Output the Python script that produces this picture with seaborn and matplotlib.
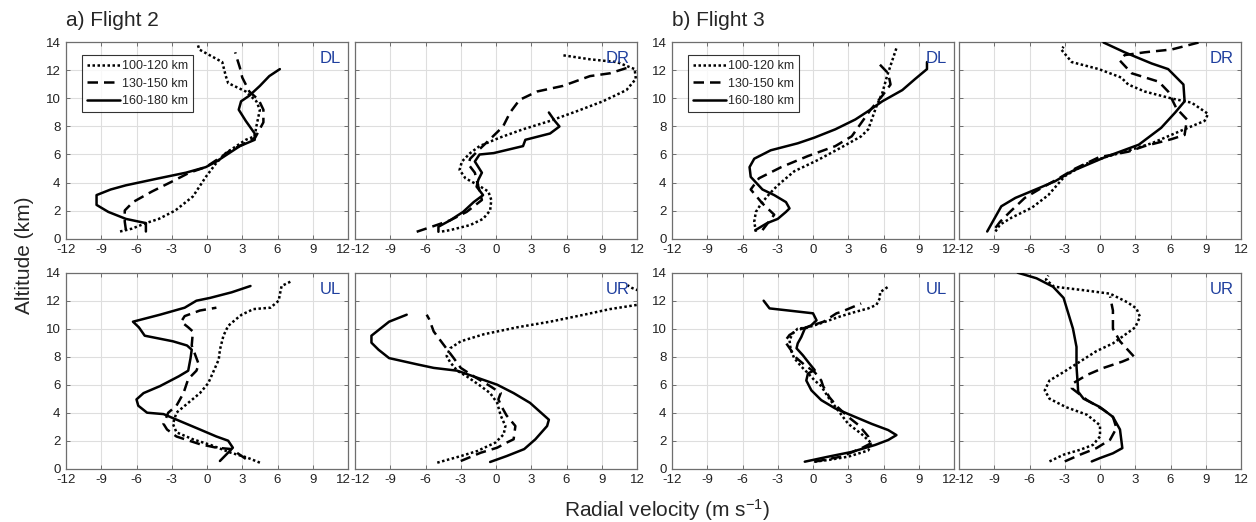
import matplotlib
matplotlib.use("Agg")
import matplotlib.pyplot as plt
import matplotlib.transforms as mtransforms
import pandas as pd
import seaborn as sns

# ---------------------------------------------------------------- data
RANGES = ["100-120 km", "130-150 km", "160-180 km"]
QUADRANTS = ["DL", "DR", "UL", "UR"]
FLIGHTS = ["a) Flight 2", "b) Flight 3"]
X_TICKS = [-12, -9, -6, -3, 0, 3, 6, 9, 12]
Y_TICKS = [0, 2, 4, 6, 8, 10, 12, 14]

# Radial-velocity profiles: (velocity m/s, altitude km), bottom to top
# Flight 2
f2_dl_100 = [(-7.4, 0.5), (-6.4, 0.7), (-5.2, 1.1), (-4.1, 1.4), (-2.7, 2.0), (-1.2, 3.0),
             (-0.1, 4.4), (0.8, 5.4), (1.6, 6.1), (3.3, 7.05), (4.06, 7.3), (4.2, 8.0),
             (4.5, 9.2), (4.2, 9.8), (3.3, 10.5), (1.8, 11.1), (1.6, 11.6), (1.3, 12.6),
             (-0.66, 13.5), (-0.8, 13.9)]
f2_dl_130 = [(-6.9, 0.6), (-7.0, 1.2), (-7.0, 2.0), (-6.3, 2.6), (-4.7, 3.35), (-2.9, 4.1),
             (-1.5, 4.7), (-0.1, 5.1), (0.8, 5.6), (2.0, 6.3), (3.0, 6.7), (4.1, 7.2),
             (4.8, 8.3), (4.8, 9.2), (4.4, 9.9), (3.6, 10.5), (3.0, 11.5), (2.8, 12.2),
             (2.5, 13.0), (2.4, 13.3)]
f2_dl_160 = [(-5.2, 0.5), (-5.2, 1.1), (-6.9, 1.4), (-8.4, 1.9), (-9.4, 2.4), (-9.4, 3.1),
             (-8.2, 3.5), (-6.9, 3.8), (-4.1, 4.3), (-1.8, 4.7), (-0.1, 5.1), (0.8, 5.5),
             (2.8, 6.6), (4.06, 7.05), (4.06, 7.5), (3.3, 8.4), (2.7, 9.2), (2.9, 9.8),
             (3.6, 10.2), (4.5, 10.9), (5.3, 11.6), (6.2, 12.1)]

f2_dr_100 = [(-4.6, 0.5), (-3.9, 0.6), (-2.2, 0.96), (-1.1, 1.4), (-0.5, 2.0), (-0.4, 2.75),
             (-0.65, 3.35), (-1.5, 3.8), (-2.6, 4.3), (-3.1, 4.9), (-2.9, 5.5), (-2.2, 6.1),
             (-1.4, 6.6), (0.3, 7.2), (2.3, 7.8), (4.6, 8.4), (6.9, 9.1), (9.1, 9.8),
             (11.1, 10.6), (11.9, 11.4), (11.8, 12.1), (10.3, 12.6), (8.0, 12.8), (5.6, 13.1)]
f2_dr_130 = [(-6.75, 0.48), (-5.05, 0.96), (-3.9, 1.3), (-2.5, 1.9), (-1.2, 2.75), (-1.5, 3.7),
             (-1.8, 4.7), (-2.35, 5.3), (-2.2, 5.7), (-1.5, 6.3), (-0.5, 7.1), (0.6, 8.0),
             (1.2, 9.0), (2.0, 9.9), (3.5, 10.5), (5.7, 10.9), (8.0, 11.6), (9.7, 11.8),
             (11.2, 12.2)]
f2_dr_160 = [(-4.9, 0.48), (-4.9, 0.84), (-3.9, 1.3), (-2.8, 1.9), (-1.9, 2.6), (-1.1, 3.1),
             (-1.65, 3.7), (-1.5, 4.2), (-1.2, 4.7), (-1.8, 5.5), (-1.4, 6.0), (-0.2, 6.1),
             (2.3, 6.6), (2.5, 7.05), (4.6, 7.5), (5.4, 8.0), (5.0, 8.4), (4.5, 9.0)]

f2_ul_100 = [(4.5, 0.43), (3.4, 0.8), (2.0, 1.15), (0.3, 1.7), (-1.2, 2.1), (-2.6, 2.6),
             (-2.9, 3.2), (-2.6, 4.0), (-1.6, 4.7), (-0.6, 5.4), (0.1, 6.1), (0.5, 6.85),
             (1.0, 7.8), (1.1, 8.5), (1.4, 9.5), (1.8, 10.2), (2.5, 10.7), (2.95, 11.0),
             (3.95, 11.4), (5.4, 11.5), (6.1, 12.0), (6.2, 12.45), (6.35, 13.05), (7.2, 13.4)]
f2_ul_130 = [(3.3, 0.7), (2.1, 1.4), (0.8, 1.5), (-0.6, 1.75), (-2.6, 2.3), (-3.4, 2.8),
             (-3.7, 3.2), (-3.3, 4.0), (-2.6, 4.5), (-2.0, 5.4), (-1.6, 6.4), (-0.9, 7.0),
             (-0.7, 7.45), (-1.3, 8.8), (-1.2, 9.8), (-1.6, 10.1), (-2.2, 10.5), (-1.9, 10.9),
             (-0.6, 11.3), (0.8, 11.5)]
f2_ul_160 = [(1.1, 0.55), (1.8, 1.15), (2.2, 1.5), (1.8, 2.0), (0.8, 2.3), (-0.6, 2.8),
             (-2.3, 3.4), (-3.7, 3.9), (-5.1, 4.0), (-5.85, 4.5), (-6.0, 4.95), (-5.4, 5.4),
             (-4.0, 5.9), (-2.4, 6.6), (-1.6, 7.0), (-1.4, 7.9), (-1.3, 8.5), (-1.7, 8.8),
             (-2.9, 9.1), (-5.3, 9.5), (-5.8, 10.1), (-6.3, 10.5), (-4.0, 11.0), (-1.9, 11.5),
             (-0.9, 12.0), (0.26, 12.2), (2.1, 12.6), (3.7, 13.05)]

f2_ur_100 = [(-5.0, 0.43), (-3.0, 0.9), (-1.6, 1.26), (-0.06, 1.86), (0.65, 2.45), (0.8, 3.05),
             (0.4, 3.8), (0.1, 4.7), (-0.5, 5.4), (-1.3, 5.9), (-2.5, 6.6), (-3.3, 7.0),
             (-3.9, 7.6), (-4.2, 8.05), (-3.9, 8.6), (-3.0, 9.1), (-1.05, 9.6), (1.8, 10.1),
             (4.6, 10.5), (7.5, 11.0), (9.7, 11.4), (12.0, 11.7), (13.0, 12.1), (12.5, 12.6),
             (11.6, 12.9), (11.2, 13.1)]
f2_ur_130 = [(-3.0, 0.55), (-1.3, 1.14), (0.1, 1.5), (0.9, 1.86), (1.5, 2.1), (1.65, 3.05),
             (0.9, 3.8), (0.5, 4.4), (0.2, 4.95), (0.4, 5.4), (-0.5, 5.9), (-1.9, 6.6),
             (-3.0, 7.2), (-3.6, 7.9), (-4.5, 8.9), (-5.3, 9.8), (-5.7, 10.7), (-5.9, 11.0)]
f2_ur_160 = [(-0.5, 0.48), (0.9, 0.9), (2.4, 1.4), (3.35, 2.1), (4.35, 3.05), (4.5, 3.5),
             (2.9, 4.7), (1.5, 5.4), (0.1, 6.0), (-1.6, 6.5), (-3.3, 7.0), (-5.3, 7.2),
             (-6.7, 7.45), (-9.1, 7.9), (-10.0, 8.5), (-10.6, 9.0), (-10.6, 9.5), (-9.7, 10.1),
             (-9.1, 10.5), (-7.6, 11.0)]

# Flight 3
f3_dl_100 = [(-4.86, 0.48), (-5.0, 1.2), (-4.86, 1.9), (-4.4, 2.5), (-3.7, 3.2), (-3.0, 3.8),
             (-1.6, 4.8), (0.4, 5.6), (2.4, 6.5), (4.1, 7.3), (4.7, 7.8), (5.0, 8.5),
             (5.4, 9.45), (5.9, 10.4), (6.3, 11.6), (6.7, 12.6), (7.1, 13.6)]
f3_dl_130 = [(-4.3, 0.6), (-3.3, 1.7), (-4.3, 2.5), (-5.3, 3.5), (-4.6, 4.3), (-2.7, 5.1),
             (-0.4, 5.9), (1.9, 6.6), (3.3, 7.3), (4.1, 8.25), (4.9, 9.2), (5.9, 10.2),
             (6.6, 11.0), (6.4, 11.8), (5.6, 12.5)]
f3_dl_160 = [(-4.9, 0.6), (-3.9, 1.1), (-3.0, 1.4), (-2.3, 1.9), (-2.0, 2.15), (-2.3, 2.6),
             (-3.3, 3.1), (-4.3, 3.5), (-5.3, 4.4), (-5.4, 5.1), (-5.0, 5.7), (-3.6, 6.3),
             (-1.3, 6.8), (0.1, 7.2), (1.9, 7.8), (3.6, 8.5), (4.7, 9.1), (5.9, 9.8),
             (7.6, 10.6), (8.7, 11.4), (9.7, 12.1), (9.7, 12.6)]

f3_dr_100 = [(-8.9, 0.5), (-8.5, 1.0), (-7.5, 1.5), (-5.8, 2.2), (-4.4, 3.1), (-3.0, 4.45),
             (-1.3, 5.3), (0.4, 5.8), (2.1, 6.2), (4.4, 6.8), (6.9, 7.7), (8.9, 8.4),
             (9.2, 8.9), (7.8, 9.7), (6.1, 10.0), (3.8, 10.5), (2.4, 11.0), (1.8, 11.5),
             (-0.1, 12.1), (-2.4, 12.6), (-3.3, 13.5), (-3.1, 13.7)]
f3_dr_130 = [(-8.9, 0.76), (-8.5, 1.2), (-7.6, 1.95), (-6.4, 2.9), (-5.2, 3.5), (-3.5, 4.3),
             (-2.1, 5.0), (-0.1, 5.8), (2.4, 6.2), (3.8, 6.6), (6.1, 7.1), (7.2, 7.4),
             (7.4, 8.5), (6.5, 9.3), (5.8, 10.5), (5.0, 11.2), (2.7, 11.8), (1.7, 12.7),
             (2.1, 13.1), (3.8, 13.3), (6.1, 13.5), (8.4, 14.0)]
f3_dr_160 = [(-9.6, 0.5), (-9.2, 1.1), (-8.8, 1.7), (-8.4, 2.3), (-7.2, 2.9), (-5.2, 3.6),
             (-3.8, 4.1), (-2.4, 4.8), (0.4, 5.8), (3.3, 6.7), (5.2, 7.9), (6.4, 9.0),
             (7.2, 9.8), (7.1, 11.0), (5.8, 12.1), (4.4, 12.5), (2.1, 13.3), (0.3, 14.0)]

f3_ul_100 = [(0.1, 0.5), (1.3, 0.62), (3.0, 0.86), (4.7, 1.3), (5.0, 1.8), (4.1, 2.5),
             (3.0, 3.2), (2.1, 4.2), (1.3, 5.1), (0.7, 5.9), (0.14, 6.3), (-0.4, 6.8),
             (-1.0, 7.3), (-1.6, 7.9), (-1.9, 8.5), (-2.0, 9.2), (-1.7, 9.7), (-1.3, 10.0),
             (-0.4, 10.1), (0.7, 10.4), (2.4, 10.9), (3.6, 11.2), (4.7, 11.45), (5.4, 11.7),
             (5.7, 12.2), (5.7, 12.6), (6.4, 13.0)]
f3_ul_130 = [(0.14, 0.5), (2.4, 0.86), (4.1, 1.45), (4.9, 1.8), (4.7, 2.3), (3.9, 3.1),
             (3.0, 3.7), (2.1, 4.4), (1.4, 5.1), (0.86, 5.9), (0.7, 6.3), (0.14, 6.9),
             (-0.7, 7.4), (-1.4, 7.9), (-1.9, 8.5), (-2.4, 9.1), (-2.0, 9.55), (-1.3, 9.9),
             (0.9, 10.5), (2.0, 11.1), (2.4, 11.2), (4.1, 11.8)]
f3_ul_160 = [(-0.7, 0.5), (1.3, 0.86), (3.3, 1.2), (5.3, 1.7), (6.4, 2.05), (7.1, 2.4),
             (6.4, 2.76), (5.0, 3.2), (3.3, 3.8), (1.9, 4.3), (0.7, 4.9), (-0.14, 5.6),
             (-0.57, 6.3), (-0.43, 6.8), (0.14, 7.05), (-0.3, 7.5), (-0.86, 8.1), (-1.4, 8.6),
             (-1.3, 8.95), (-1.0, 9.4), (-0.7, 10.0), (-0.14, 10.25), (0.3, 10.6), (0.0, 11.1),
             (-2.1, 11.3), (-3.7, 11.45), (-4.2, 12.0)]

f3_ur_100 = [(-4.3, 0.52), (-3.1, 1.0), (-1.7, 1.35), (-0.6, 1.7), (0.0, 2.3), (0.0, 3.1),
             (-1.1, 3.85), (-2.9, 4.4), (-4.3, 5.0), (-4.7, 5.6), (-4.3, 6.3), (-3.1, 6.9),
             (-1.7, 7.65), (-0.3, 8.4), (1.1, 8.95), (2.1, 9.55), (3.0, 10.1), (3.4, 10.85),
             (3.1, 11.45), (2.3, 11.9), (0.86, 12.5), (-1.4, 12.75), (-3.9, 13.0), (-4.6, 13.5),
             (-4.4, 13.8)]
f3_ur_130 = [(-3.0, 0.52), (-1.7, 1.0), (-0.3, 1.47), (0.86, 2.07), (1.4, 2.9), (1.1, 3.7),
             (0.3, 4.2), (-1.1, 4.9), (-2.4, 5.75), (-2.3, 6.1), (-1.1, 6.7), (0.3, 7.2),
             (1.9, 7.65), (2.9, 8.0), (1.7, 9.1), (1.1, 10.0), (1.1, 11.3), (0.86, 12.3)]
f3_ur_160 = [(-0.7, 0.52), (0.0, 0.76), (1.1, 1.1), (1.9, 1.47), (1.7, 2.8), (1.1, 3.7),
             (0.0, 4.4), (-1.4, 5.0), (-1.86, 5.5), (-1.9, 6.1), (-2.0, 7.3), (-2.0, 8.7),
             (-2.3, 10.0), (-2.7, 11.1), (-3.1, 12.2), (-4.0, 13.0), (-5.4, 13.6), (-7.0, 14.0)]

PROFILES = {
    ("a) Flight 2", "DL"): [f2_dl_100, f2_dl_130, f2_dl_160],
    ("a) Flight 2", "DR"): [f2_dr_100, f2_dr_130, f2_dr_160],
    ("a) Flight 2", "UL"): [f2_ul_100, f2_ul_130, f2_ul_160],
    ("a) Flight 2", "UR"): [f2_ur_100, f2_ur_130, f2_ur_160],
    ("b) Flight 3", "DL"): [f3_dl_100, f3_dl_130, f3_dl_160],
    ("b) Flight 3", "DR"): [f3_dr_100, f3_dr_130, f3_dr_160],
    ("b) Flight 3", "UL"): [f3_ul_100, f3_ul_130, f3_ul_160],
    ("b) Flight 3", "UR"): [f3_ur_100, f3_ur_130, f3_ur_160],
}

# ---------------------------------------------------------------- style
sns.set_style("ticks")
plt.rcParams["font.family"] = ["Liberation Sans", "DejaVu Sans"]
plt.rcParams["axes.unicode_minus"] = False
plt.rcParams["mathtext.fontset"] = "custom"
plt.rcParams["mathtext.rm"] = "Liberation Sans"
plt.rcParams["mathtext.it"] = "Liberation Sans:italic"

LINESTYLES = {
    "100-120 km": (0, (1.0, 1.0)),
    "130-150 km": (0, (4.2, 2.4)),
    "160-180 km": "-",
}
LABEL_BLUE = "#1f3f9e"
SPINE_GREY = "#6e6e6e"

W, H = 1256, 522
fig = plt.figure(figsize=(W / 100, H / 100), dpi=100)

col_left = [66, 355, 672, 959]
col_width = 282
row_top = {"D": 42.5, "U": 272.7}
row_height = 196

for fi, flight in enumerate(FLIGHTS):
    for qi, quad in enumerate(QUADRANTS):
        col = fi * 2 + (qi % 2)
        top = row_top[quad[0]]
        ax = fig.add_axes([col_left[col] / W, 1 - (top + row_height) / H,
                           col_width / W, row_height / H])
        for rng, prof in zip(RANGES, PROFILES[(flight, quad)]):
            df = pd.DataFrame(prof, columns=["velocity", "altitude"])
            sns.lineplot(data=df, x="velocity", y="altitude", sort=False,
                         estimator=None, color="black", linewidth=1.8,
                         linestyle=LINESTYLES[rng], label=rng, ax=ax,
                         legend=False, zorder=3)
        ax.set_xlim(-12, 12)
        ax.set_ylim(0, 14)
        ax.set_xticks(X_TICKS)
        ax.set_yticks(Y_TICKS)
        ax.grid(True, color="#dedede", linewidth=0.8, zorder=0)
        ax.set_xlabel("")
        ax.set_ylabel("")
        ax.tick_params(direction="in", length=3, width=0.7, color=SPINE_GREY,
                       top=True, right=True, labelsize=9.5, labelcolor="#222222",
                       pad=4)
        if col % 2 == 1:
            ax.tick_params(labelleft=False)
        # the two panels of a pair nearly touch: nudge the shared-edge labels apart
        xlabels = ax.get_xticklabels()
        if col % 2 == 0:
            shift = mtransforms.ScaledTranslation(-5 / 100, 0, fig.dpi_scale_trans)
            xlabels[-1].set_transform(xlabels[-1].get_transform() + shift)
        else:
            shift = mtransforms.ScaledTranslation(5 / 100, 0, fig.dpi_scale_trans)
            xlabels[0].set_transform(xlabels[0].get_transform() + shift)
        for s in ax.spines.values():
            s.set_visible(True)
            s.set_color(SPINE_GREY)
            s.set_linewidth(0.9)
        ax.text(0.975, 0.955, quad, transform=ax.transAxes, ha="right", va="top",
                color=LABEL_BLUE, fontsize=12)
        if quad == "DL":
            leg = ax.legend(loc="upper left", bbox_to_anchor=(0.055, 0.935),
                            fontsize=9, handlelength=2.7, handletextpad=0.15,
                            labelspacing=0.45, borderpad=0.4, frameon=True,
                            fancybox=False, borderaxespad=0)
            leg.get_frame().set_edgecolor("black")
            leg.get_frame().set_linewidth(0.8)

fig.text(66 / W, 1 - 21 / H, FLIGHTS[0], fontsize=15, ha="left", va="center")
fig.text(672 / W, 1 - 21 / H, FLIGHTS[1], fontsize=15, ha="left", va="center")
fig.text(25 / W, 1 - 255 / H, "Altitude (km)", fontsize=15, rotation=90,
         ha="center", va="center")
fig.text(667 / W, 1 - 510 / H, "Radial velocity (m s$^{-1}$)", fontsize=15,
         ha="center", va="center")

fig.savefig("out.png", dpi=100, facecolor="white")
